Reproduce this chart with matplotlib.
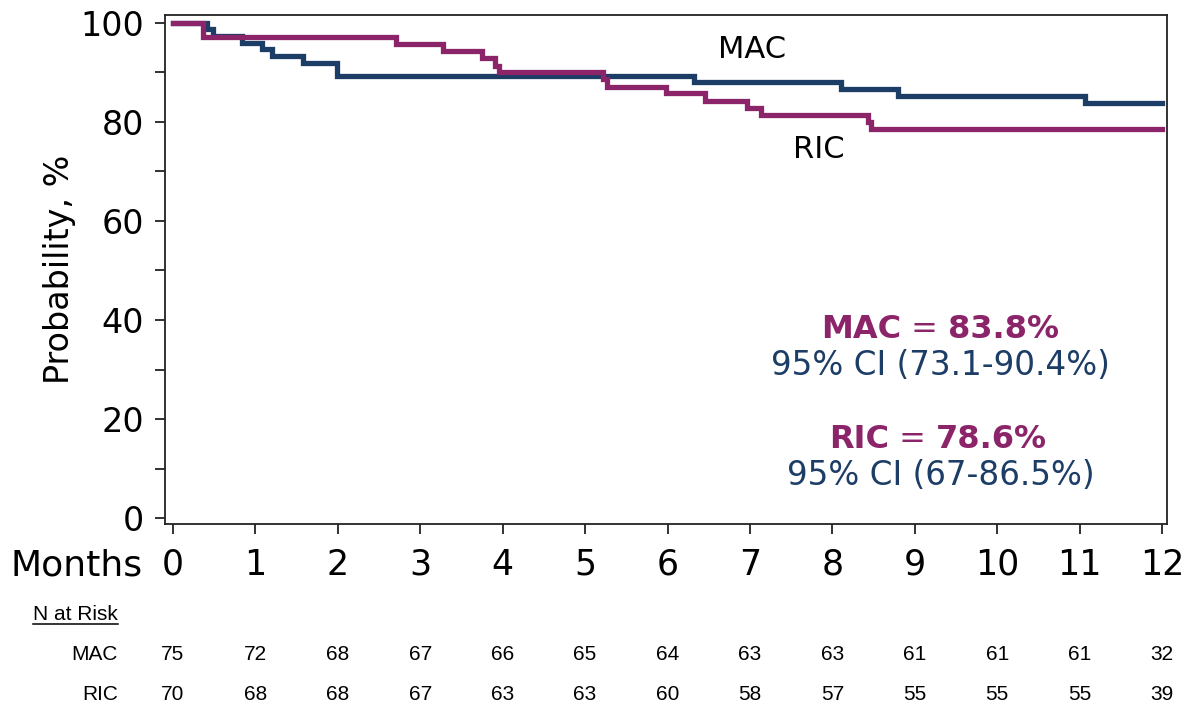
import matplotlib
matplotlib.use("Agg")
from matplotlib import pyplot as plt
from matplotlib.lines import Line2D

# Kaplan-Meier style step data
mac_t = [0, 0.41, 0.49, 0.84, 1.08, 1.20, 1.58, 1.99, 6.32, 8.10, 8.80, 11.06, 12]
mac_s = [100, 98.7, 97.3, 96.0, 94.7, 93.3, 92.0, 89.3, 88.0, 86.6, 85.3, 83.8, 83.8]

ric_t = [0, 0.36, 2.70, 3.28, 3.75, 3.91, 3.96, 5.22, 5.27, 5.98, 6.46, 6.97, 7.13, 8.43, 8.47, 12]
ric_s = [100, 97.1, 95.7, 94.3, 92.9, 91.4, 90.0, 88.6, 87.1, 85.8, 84.3, 82.9, 81.4, 80.0, 78.6, 78.6]

months = list(range(13))
risk_mac = [75, 72, 68, 67, 66, 65, 64, 63, 63, 61, 61, 61, 32]
risk_ric = [70, 68, 68, 67, 63, 63, 60, 58, 57, 55, 55, 55, 39]

navy = "#1c3d66"
magenta = "#8b2469"
W, H = 1186, 708

fig = plt.figure(figsize=(W / 100, H / 100), dpi=100)
ax = fig.add_axes([165 / W, (H - 524) / H, (1167 - 165) / W, (524 - 15) / H])

ax.plot(mac_t, mac_s, drawstyle="steps-post", color=navy, lw=3.8, solid_joinstyle="miter")
ax.plot(ric_t, ric_s, drawstyle="steps-post", color=magenta, lw=3.8, solid_joinstyle="miter")

ax.set_xlim(-0.097, 12.06)
ax.set_ylim(-1.2, 101.6)
ax.set_xticks(months)
ax.set_yticks(range(0, 101, 20))
ax.set_yticks(range(10, 100, 20), minor=True)
ax.tick_params(axis="both", which="both", direction="out", length=7, width=1.3, color="#222222")
ax.tick_params(axis="x", labelsize=25, pad=10)
ax.tick_params(axis="y", labelsize=24, pad=8)
for sp in ax.spines.values():
    sp.set_linewidth(1.3)
    sp.set_color("#222222")
ax.set_ylabel("Probability, %", fontsize=24, labelpad=3)

# curve labels
ax.text(7.03, 92.9, "MAC", fontsize=22, ha="center", va="baseline")
ax.text(7.83, 72.7, "RIC", fontsize=22, ha="center", va="baseline")

# estimates
def estimate(x, y, name, val):
    t1 = ax.text(x, y, name, fontsize=23, fontweight="bold", color=magenta, va="baseline")
    t2 = ax.annotate(" = ", xy=(1, 0), xycoords=t1, fontsize=23, color=magenta, va="bottom")
    ax.annotate(val, xy=(1, 0), xycoords=t2, fontsize=23, fontweight="bold", color=magenta, va="bottom")

estimate(7.86, 36.4, "MAC", "83.8%")
ax.text(9.31, 28.9, "95% CI (73.1-90.4%)", fontsize=23.5, color=navy, ha="center", va="baseline")
estimate(7.96, 14.1, "RIC", "78.6%")
ax.text(9.31, 6.7, "95% CI (67-86.5%)", fontsize=23.5, color=navy, ha="center", va="baseline")

# x axis title on the left of the tick labels
fig.text(143 / W, (H - 575) / H, "Months", fontsize=26, ha="right", va="baseline")

# number at risk table
tf = "Liberation Sans"
fig.text(33 / W, (H - 620) / H, "N at Risk", fontsize=15, family=tf, ha="left", va="baseline")
fig.add_artist(Line2D([33 / W, 118 / W], [(H - 624) / H] * 2, color="black", lw=1.1))
fig.text(118 / W, (H - 660) / H, "MAC", fontsize=15, family=tf, ha="right", va="baseline")
fig.text(118 / W, (H - 700) / H, "RIC", fontsize=15, family=tf, ha="right", va="baseline")
for m, a, b in zip(months, risk_mac, risk_ric):
    xf = fig.transFigure.inverted().transform(ax.transData.transform((m, 0)))[0]
    fig.text(xf, (H - 660) / H, str(a), fontsize=15, family=tf, ha="center", va="baseline")
    fig.text(xf, (H - 700) / H, str(b), fontsize=15, family=tf, ha="center", va="baseline")

fig.savefig("out.png", dpi=100)
